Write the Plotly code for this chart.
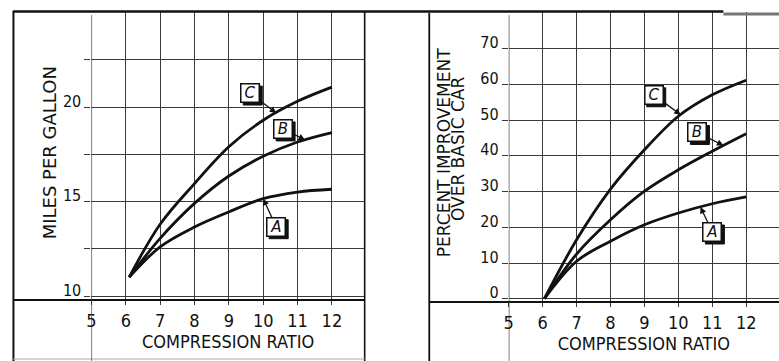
import numpy as np
import plotly.graph_objects as go

# ---------------- data ----------------
cr_left = [6.1, 7, 8, 9, 10, 11, 12]
mpg_A = [11.0, 12.6, 13.65, 14.45, 15.15, 15.5, 15.65]
mpg_B = [11.0, 13.05, 14.9, 16.35, 17.4, 18.15, 18.65]
mpg_C = [11.0, 13.8, 15.95, 17.9, 19.3, 20.3, 21.05]

cr_right = [6.05, 7, 8, 9, 10, 11, 12]
pct_A = [0, 10.5, 16.1, 20.7, 24.0, 26.6, 28.5]
pct_B = [0, 12.5, 22.1, 30.1, 36.1, 41.3, 46.2]
pct_C = [0, 16.5, 30.7, 41.7, 51.1, 57.1, 61.2]

x_ticks = [5, 6, 7, 8, 9, 10, 11, 12]
x_ticktext = ["5", "6", "7", "8", "9", "10", "11", "12"]
mpg_ticks = [10, 12.5, 15, 17.5, 20, 22.5]
mpg_ticktext = ["10", "", "15", "", "20", ""]
pct_ticks = [0, 10, 20, 30, 40, 50, 60, 70]
pct_ticktext = ["0", "10", "20", "30", "40", "50", "60", "70"]

W, H = 779, 361
COND = "DejaVu Sans Condensed, DejaVu Sans, sans-serif"
REG = "DejaVu Sans, sans-serif"
INK = "#111111"
GRID = "#3a3a3a"

fig = go.Figure()

for ys in (mpg_A, mpg_B, mpg_C):
    fig.add_trace(go.Scatter(x=cr_left, y=ys, mode="lines", xaxis="x", yaxis="y",
                             line=dict(color=INK, width=2.8, shape="spline", smoothing=1.0),
                             showlegend=False, hoverinfo="skip"))
for ys in (pct_A, pct_B, pct_C):
    fig.add_trace(go.Scatter(x=cr_right, y=ys, mode="lines", xaxis="x2", yaxis="y2",
                             line=dict(color=INK, width=2.8, shape="spline", smoothing=1.0),
                             showlegend=False, hoverinfo="skip"))


def px_x(p):
    return p / W


def px_y(p):
    return 1 - p / H


common_x = dict(tickvals=x_ticks, ticktext=x_ticktext, showgrid=True, gridcolor=GRID,
                gridwidth=1.1, ticks="outside", ticklen=4, tickcolor=GRID, tickwidth=1.1,
                zeroline=False, showline=False,
                tickfont=dict(family=COND, size=18, color=INK),
                title=dict(text="COMPRESSION RATIO", font=dict(family=COND, size=18, color=INK),
                           standoff=5))
common_y = dict(showgrid=True, gridcolor=GRID, gridwidth=1.1, ticks="outside", ticklen=6,
                tickcolor=GRID, tickwidth=1.1, zeroline=False, showline=False,
                tickfont=dict(family=COND, size=16, color=INK), ticklabelshift=-6)

fig.update_layout(
    width=W, height=H, margin=dict(l=0, r=0, t=0, b=0),
    paper_bgcolor="white", plot_bgcolor="white",
    xaxis=dict(domain=[px_x(87), px_x(362)], range=[5, 12.955], anchor="y", **common_x),
    yaxis=dict(domain=[px_y(300), px_y(11)], range=[9.79, 25.08], anchor="x",
               tickvals=mpg_ticks, ticktext=mpg_ticktext, **common_y),
    xaxis2=dict(domain=[px_x(507), 1.0], range=[5, 12.967], anchor="y2", **common_x),
    yaxis2=dict(domain=[px_y(302), px_y(12)], range=[-0.92, 80.3], anchor="x2",
                tickvals=pct_ticks, ticktext=pct_ticktext, **common_y),
)

# ---------------- frame lines ----------------
shapes = []


def hline(x0, x1, y, w=2.0, c=INK):
    shapes.append(dict(type="line", xref="paper", yref="paper", x0=px_x(x0), x1=px_x(x1),
                       y0=px_y(y), y1=px_y(y), line=dict(color=c, width=w)))


def vline(x, y0, y1, w=2.0, c=INK):
    shapes.append(dict(type="line", xref="paper", yref="paper", x0=px_x(x), x1=px_x(x),
                       y0=px_y(y0), y1=px_y(y1), line=dict(color=c, width=w)))


hline(8, 723, 11.5, 2.6)
hline(723, 779, 14, 3, "#777777")
vline(8.5, 11, 361, 2)
vline(362, 11, 361, 1.6)
hline(8, 362, 300, 1.8)
vline(427, 13, 361, 1.8)
hline(427, 779, 302, 1.8)
hline(8, 362, 359, 1.2, "#aaaaaa")

# x = 5 reference lines running down through the tick area
for xr in ("x", "x2"):
    shapes.append(dict(type="line", xref=xr, yref="paper", x0=5, x1=5, y0=0, y1=px_y(15),
                       line=dict(color=GRID, width=1.3)))

# ---------------- y titles ----------------
fig.add_annotation(text="MILES PER GALLON", xref="paper", yref="paper", x=px_x(33), y=px_y(153),
                   showarrow=False, textangle=-90, font=dict(family=REG, size=18, color=INK))
fig.add_annotation(text="PERCENT IMPROVEMENT", xref="paper", yref="paper", x=px_x(442), y=px_y(153),
                   showarrow=False, textangle=-90, font=dict(family=REG, size=17, color=INK))
fig.add_annotation(text="OVER BASIC CAR", xref="paper", yref="paper", x=px_x(456), y=px_y(149),
                   showarrow=False, textangle=-90, font=dict(family=REG, size=17, color=INK))


# ---------------- curve labels ----------------
def label(letter, xr, yr, tip_x, xs, ys, ax, ay):
    tip_y = float(np.interp(tip_x, xs, ys))
    # drop shadow of the label box
    shapes.append(dict(type="rect", xref=xr, yref=yr, xsizemode="pixel", ysizemode="pixel",
                       xanchor=tip_x, yanchor=tip_y,
                       x0=ax - 9.5 + 2.5, x1=ax + 9.5 + 2.5, y0=-ay - 9.5 - 2.5, y1=-ay + 9.5 - 2.5,
                       fillcolor=INK, line=dict(color=INK, width=1), layer="above"))
    fig.add_annotation(x=tip_x, y=tip_y, xref=xr, yref=yr, text=f"<i>{letter}</i>", showarrow=True,
                       arrowhead=2, arrowsize=1, arrowwidth=1.3, arrowcolor=INK, ax=ax, ay=ay,
                       width=15, height=15, align="center", valign="middle",
                       bgcolor="white", bordercolor=INK, borderwidth=1.5, borderpad=1,
                       font=dict(family=REG, size=15, color=INK))


label("C", "x", "y", 10.38, cr_left, mpg_C, -26, -20)
label("B", "x", "y", 11.22, cr_left, mpg_B, -22, -11)
label("A", "x", "y", 10.0, cr_left, mpg_A, 13, 28)
label("C", "x2", "y2", 10.07, cr_right, pct_C, -27, -20)
label("B", "x2", "y2", 11.33, cr_right, pct_B, -26, -13)
label("A", "x2", "y2", 10.65, cr_right, pct_A, 12, 25)

fig.update_layout(shapes=shapes)

fig.write_html("out.html", config={"displayModeBar": False},
               post_script="document.body.style.margin='0';")
